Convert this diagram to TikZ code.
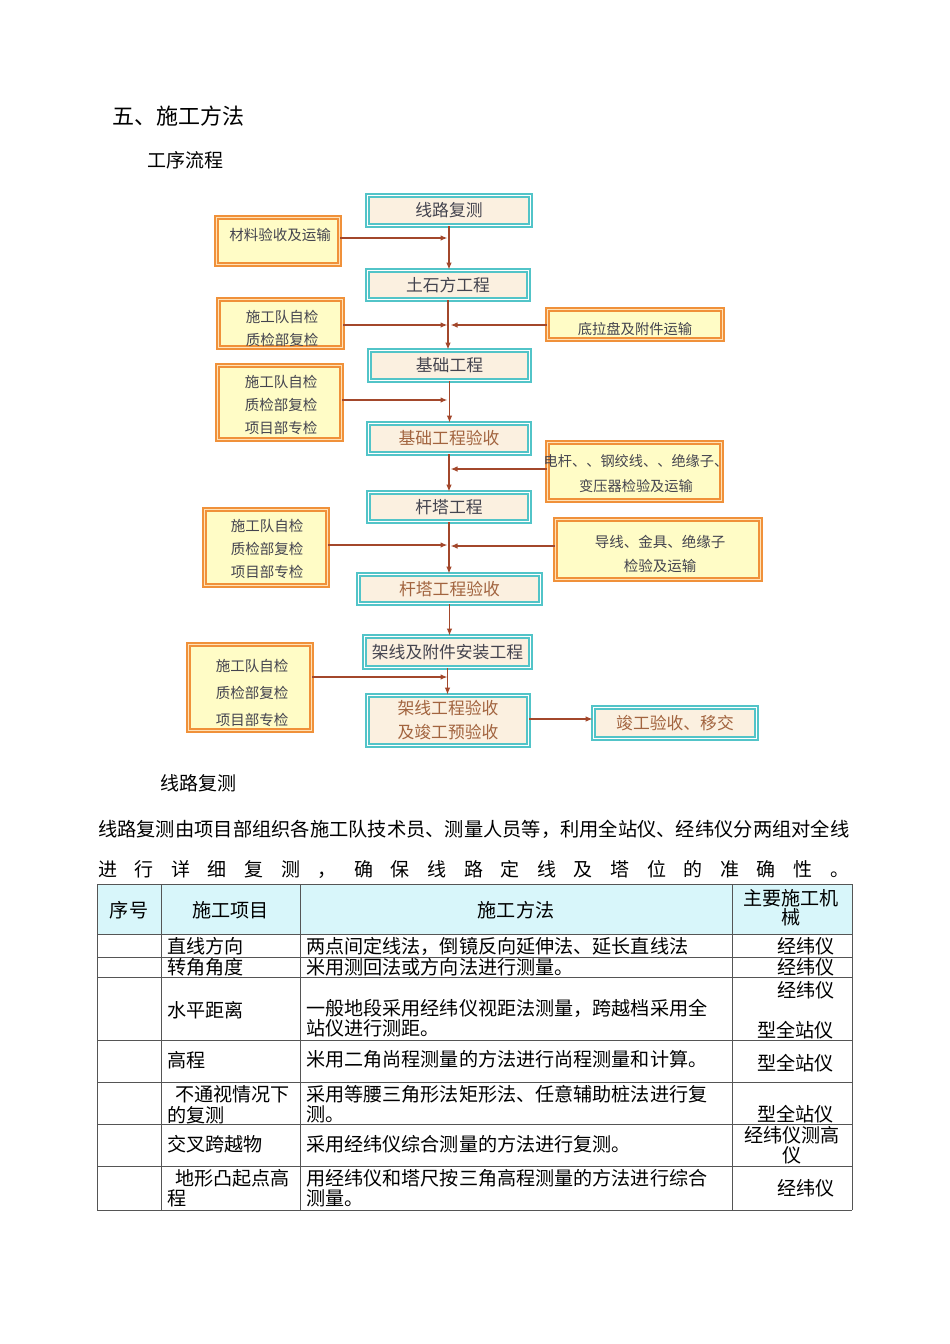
\documentclass[tikz,border=0pt]{standalone}
\usepackage{fontspec}
\setmainfont{Noto Sans CJK SC}
\usetikzlibrary{arrows.meta}
\newcommand\fsz[2]{\fontsize{#1pt}{#2pt}\selectfont}
\definecolor{tealc}{HTML}{52C4C8}
\definecolor{beigec}{HTML}{FBF0E0}
\definecolor{orangec}{HTML}{F0913A}
\definecolor{paleor}{HTML}{FFE2B8}
\definecolor{yellowc}{HTML}{FFFCC6}
\definecolor{arrc}{HTML}{A3472B}
\definecolor{txtdark}{HTML}{44444F}
\definecolor{txtbrown}{HTML}{A2643F}
\definecolor{headc}{HTML}{D8F6FA}
\definecolor{gridc}{HTML}{555555}
\begin{document}
\begin{tikzpicture}[x=1pt,y=-1pt,
  cbox/.style={draw=tealc, line width=1.7pt, double=white, double distance=1.4pt, fill=beigec, inner sep=0pt, text=txtdark, font=\fsz{16.8}{24}, align=center},
  obox/.style={draw=orangec, line width=1.8pt, double=paleor, double distance=1.5pt, fill=yellowc, inner sep=0pt},
  otxt/.style={inner sep=0pt, text=txtdark, align=center},
  arr/.style={draw=arrc, line width=1.3pt, -{Latex[length=7pt,width=5.5pt]}},
  tx/.style={inner sep=0pt, text=black, font=\fsz{19.1}{20}},
  tl/.style={draw=gridc, line width=0.9pt}
]
\useasboundingbox[fill=white] (0,0) rectangle (950,1344);

% headings
\node[tx, anchor=west, font=\fsz{22}{24}] (title) at (112,116) {五、施工方法};
\node[tx, anchor=west, font=\fsz{19}{20}] (sub1) at (147,160) {工序流程};

% central boxes
\node[cbox, minimum width=163pt, minimum height=30pt] (b1) at (449,210.5) {线路复测};
\node[cbox, minimum width=161pt, minimum height=29pt] (b2) at (448,285) {土石方工程};
\node[cbox, minimum width=160pt, minimum height=30pt] (b3) at (449.5,365.5) {基础工程};
\node[cbox, minimum width=161pt, minimum height=30pt, text=txtbrown] (b4) at (449,438.5) {基础工程验收};
\node[cbox, minimum width=161pt, minimum height=29pt] (b5) at (449,507) {杆塔工程};
\node[cbox, minimum width=182pt, minimum height=29pt, text=txtbrown] (b6) at (449.5,589) {杆塔工程验收};
\node[cbox, minimum width=166pt, minimum height=31pt] (b7) at (447.5,652) {架线及附件安装工程};
\node[cbox, minimum width=161pt, minimum height=50pt, text=txtbrown] (b8) at (448,720.5) {架线工程验收\\及竣工预验收};
\node[cbox, minimum width=163pt, minimum height=31pt, text=txtbrown] (b9) at (675,723) {竣工验收、移交};

% side boxes
\node[obox, minimum width=123pt, minimum height=47pt] (L1) at (278,241) {};
\node[otxt, font=\fsz{14.5}{23}] (L1t) at (280,235) {材料验收及运输};
\node[obox, minimum width=124pt, minimum height=48pt] (L2) at (280.5,323.5) {};
\node[otxt, font=\fsz{14.5}{23}] (L2t) at (282,328.5) {施工队自检\\质检部复检};
\node[obox, minimum width=124pt, minimum height=74pt] (L3) at (279.5,402.5) {};
\node[otxt, font=\fsz{14.5}{23}] (L3t) at (281,405) {施工队自检\\质检部复检\\项目部专检};
\node[obox, minimum width=123pt, minimum height=76pt] (L4) at (266,547.5) {};
\node[otxt, font=\fsz{14.5}{23}] (L4t) at (267,549) {施工队自检\\质检部复检\\项目部专检};
\node[obox, minimum width=123pt, minimum height=86pt] (L5) at (250,687.5) {};
\node[otxt, font=\fsz{14.5}{27}] (L5t) at (252,693) {施工队自检\\质检部复检\\项目部专检};
\node[obox, minimum width=175pt, minimum height=30pt] (R1) at (635,324.5) {};
\node[otxt, font=\fsz{14.3}{23}] (R1t) at (635,329) {底拉盘及附件运输};
\node[obox, minimum width=174pt, minimum height=58pt] (R2) at (634.5,471.5) {};
\node[otxt, font=\fsz{14.2}{25}] (R2t) at (636,473.5) {电杆、、钢绞线、、绝缘子、\\变压器检验及运输};
\node[obox, minimum width=205pt, minimum height=60pt] (R3) at (658,549.5) {};
\node[otxt, font=\fsz{14.5}{24}] (R3t) at (660,554) {导线、金具、绝缘子\\检验及运输};

% junction points on the main line
\coordinate (j1) at (447.5,238);
\coordinate (j2) at (447.5,325);
\coordinate (k2) at (450.5,325);
\coordinate (j3) at (447.5,400);
\coordinate (k4) at (450.5,469);
\coordinate (j5) at (447.5,545);
\coordinate (k5) at (450.5,546);
\coordinate (j7) at (447.5,677);
\coordinate (m8) at (533,719);

% main flow
\draw[arr] (b1.south) -- (b1.south |- b2.north);
\draw[arr] (b2.south) -- (b2.south |- b3.north);
\draw[arr] (b3.south) -- (b3.south |- b4.north);
\draw[arr] (b4.south) -- (b4.south |- b5.north);
\draw[arr] (b5.south) -- (b5.south |- b6.north);
\draw[arr] (b6.south) -- (b6.south |- b7.north);
\draw[arr] (b7.south) -- (b7.south |- b8.north);
\draw[arr] (b8.east |- m8) -- (b9.west |- m8);

% side inputs
\draw[arr] (L1.east |- j1) -- (j1);
\draw[arr] (L2.east |- j2) -- (j2);
\draw[arr] (R1.west |- k2) -- (k2);
\draw[arr] (L3.east |- j3) -- (j3);
\draw[arr] (R2.west |- k4) -- (k4);
\draw[arr] (L4.east |- j5) -- (j5);
\draw[arr] (R3.west |- k5) -- (k5);
\draw[arr] (L5.east |- j7) -- (j7);

% text below
\node[tx, anchor=west, font=\fsz{19}{20}] (sub2) at (160,783) {线路复测};
\node[tx, anchor=west, font=\fsz{19.26}{20}] (p1) at (98,829) {线路复测由项目部组织各施工队技术员、测量人员等，利用全站仪、经纬仪分两组对全线};
\node[tx, anchor=west, font=\fsz{19}{20}] (p2) at (98,869) {\hbox to 751pt{进\hfill 行\hfill 详\hfill 细\hfill 复\hfill 测\hfill ，\hfill 确\hfill 保\hfill 线\hfill 路\hfill 定\hfill 线\hfill 及\hfill 塔\hfill 位\hfill 的\hfill 准\hfill 确\hfill 性\hfill 。}};

% table
\fill[headc] (97,884) rectangle (852,934);
\foreach \yy in {884,934,957,977,1040,1082,1124,1166,1210} \draw[tl] (97,\yy) -- (852,\yy);
\foreach \xx in {97,161,300,732,852} \draw[tl] (\xx,884) -- (\xx,1210);

\node[tx] (h1) at (129,910) {序号};
\node[tx] (h2) at (230.5,910) {施工项目};
\node[tx] (h3) at (516,910) {施工方法};
\node[tx, align=center, font=\fsz{19.1}{19}] (h4) at (791,907.5) {主要施工机\\械};

\node[tx, anchor=west] (a1) at (167,946) {直线方向};
\node[tx, anchor=west] (m1) at (306,946) {两点间定线法，倒镜反向延伸法、延长直线法};
\node[tx, anchor=east] (e1) at (835,946) {经纬仪};

\node[tx, anchor=west] (a2) at (167,967) {转角角度};
\node[tx, anchor=west] (m2) at (306,967) {米用测回法或方向法进行测量。};
\node[tx, anchor=east] (e2) at (835,967) {经纬仪};

\node[tx, anchor=west] (a3) at (167,1010) {水平距离};
\node[tx, anchor=west, align=left] (m3) at (306,1018) {一般地段采用经纬仪视距法测量，跨越档采用全\\站仪进行测距。};
\node[tx, anchor=east] (e3) at (835,990) {经纬仪};
\node[tx, anchor=east] (e3b) at (834,1030) {型全站仪};

\node[tx, anchor=west] (a4) at (167,1060) {高程};
\node[tx, anchor=west] (m4) at (306,1059) {米用二角尚程测量的方法进行尚程测量和计算。};
\node[tx, anchor=east] (e4) at (834,1063) {型全站仪};

\node[tx, anchor=west] (a5) at (175,1094) {不通视情况下};
\node[tx, anchor=west] (a5b) at (167,1115) {的复测};
\node[tx, anchor=west, align=left] (m5) at (306,1104.5) {采用等腰三角形法矩形法、任意辅助桩法进行复\\测。};
\node[tx, anchor=east] (e5) at (834,1114) {型全站仪};

\node[tx, anchor=west] (a6) at (167,1144) {交叉跨越物};
\node[tx, anchor=west] (m6) at (306,1144) {采用经纬仪综合测量的方法进行复测。};
\node[tx, align=center, font=\fsz{19.1}{20}] (e6) at (792,1145) {经纬仪测高\\仪};

\node[tx, anchor=west] (a7) at (175,1178) {地形凸起点高};
\node[tx, anchor=west] (a7b) at (167,1198) {程};
\node[tx, anchor=west, align=left] (m7) at (306,1188) {用经纬仪和塔尺按三角高程测量的方法进行综合\\测量。};
\node[tx, anchor=east] (e7) at (835,1188) {经纬仪};
\end{tikzpicture}
\end{document}
